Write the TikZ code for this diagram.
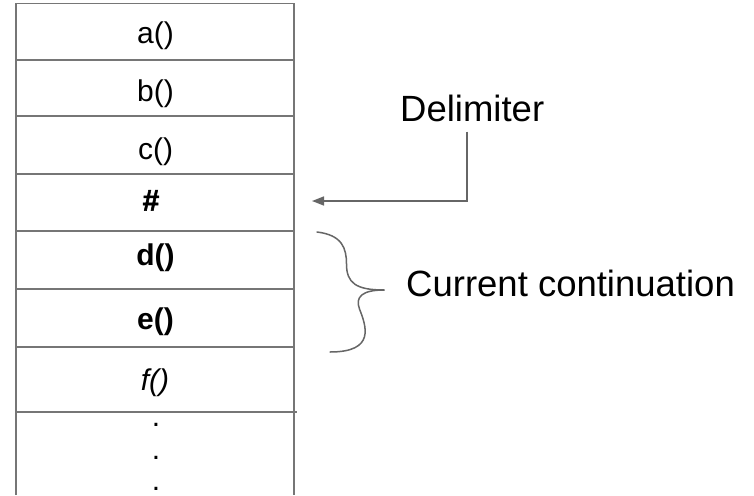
\documentclass[tikz,border=0pt]{standalone}
\usepackage{fontspec}
\setmainfont{Liberation Sans}
\newfontfamily\heavysans[FakeBold=1.8]{Liberation Sans Bold}
\usetikzlibrary{arrows.meta}
\definecolor{frameclr}{HTML}{767676}
\definecolor{linkclr}{HTML}{666666}
\begin{document}
\begin{tikzpicture}[x=1pt,y=-1pt,
  frame/.style={draw=frameclr,line width=1.6pt},
  celltext/.style={anchor=base,inner sep=0pt,font=\fontsize{30}{36}\selectfont},
  sidelabel/.style={anchor=base west,inner sep=0pt,font=\fontsize{36.5}{44}\selectfont},
  pointer/.style={draw=linkclr,line width=1.5pt,-{Triangle[length=12pt,width=9pt]}},
  bracecurve/.style={draw=linkclr,line width=1.5pt,line cap=round}]
\useasboundingbox (0,0) rectangle (754,495);
\fill[white] (0,0) rectangle (754,495);

% stack frame: open at the bottom
\draw[frame] (15.7,495) -- (15.7,3.5) -- (294,3.5) -- (294,495);
\foreach \y in {60,116,174,231,289,347}
  \draw[frame] (15.7,\y) -- (294,\y);
\draw[frame] (15.7,412) -- (296.5,412);

% stack entries
\node[celltext] (ra) at (155.5,43.5) {a()};
\node[celltext] (rb) at (155.5,101.7) {b()};
\node[celltext] (rc) at (155.5,159.5) {c()};
\node[celltext] (rhash) at (151,210.6) {\heavysans\symbol{35}};
\node[celltext] (rd) at (155.5,265) {\bfseries d()};
\node[celltext] (re) at (155.5,329) {\bfseries e()};
\node[celltext] (rf) at (155,390.7) {\itshape f()};
\node[celltext] (dot1) at (156,426.5) {.};
\node[celltext] (dot2) at (156,459) {.};
\node[celltext] (dot3) at (156,490.5) {.};

% labels
\node[sidelabel] (delim) at (400,121) {Delimiter};
\node[sidelabel] (cont) at (406,296.7) {Current continuation};

% pointer from the label down and left to the delimiter row
\coordinate (bend) at (467,201);
\coordinate (tip) at (312,201);
\draw[pointer] (delim.south -| bend) ++(0,10) -- (bend) -- (tip);

% curly brace spanning d() and e()
\coordinate (bracetop) at (317,232);
\coordinate (bracemid) at (384,290);
\coordinate (bracebot) at (330,352);
\draw[bracecurve] (bracetop)
  .. controls (342,235) and (346.5,248) .. (346.5,264)
  .. controls (346.5,283) and (356,290) .. (bracemid);
\draw[bracecurve] (bracemid)
  .. controls (362,290) and (355,297) .. (359.5,309)
  .. controls (366,326) and (376,352) .. (bracebot);
\end{tikzpicture}
\end{document}
